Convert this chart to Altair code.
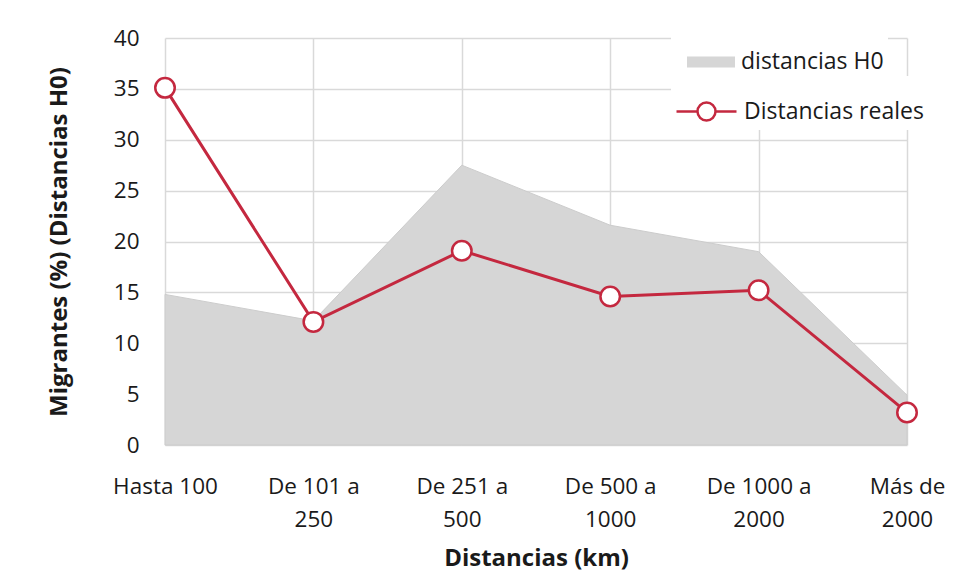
import altair as alt
import pandas as pd

categorias = ["Hasta 100", "De 101 a\n250", "De 251 a\n500", "De 500 a\n1000", "De 1000 a\n2000", "Más de\n2000"]
h0 = [14.8, 12.2, 27.5, 21.6, 19.0, 4.9]
reales = [35.1, 12.1, 19.1, 14.6, 15.2, 3.2]

df_h0 = pd.DataFrame({"cat": categorias, "valor": h0, "serie": "distancias H0"})
df_re = pd.DataFrame({"cat": categorias, "valor": reales, "serie": "Distancias reales"})

FONT = "Open Sans"
RED = "#c4283f"
GRAY = "#d6d6d6"
TXT = "#1a1a1a"

x = alt.X("cat:N", sort=categorias, scale=alt.Scale(type="point", padding=0),
          axis=alt.Axis(title="Distancias (km)", labelExpr="split(datum.label, '\\n')",
                        labelAngle=0, labelFontSize=22.5, labelLineHeight=33, labelPadding=30,
                        titleFontSize=24, titleFontWeight="bold", titlePadding=16,
                        ticks=False, domain=False, grid=True, gridColor="#d9d9d9", gridWidth=1.5,
                        labelColor=TXT, titleColor=TXT))
y = alt.Y("valor:Q", scale=alt.Scale(domain=[0, 40]),
          axis=alt.Axis(title="Migrantes (%) (Distancias H0)", values=list(range(0, 45, 5)),
                        labelFontSize=22.5, labelPadding=26, ticks=False, domain=False,
                        titleFontSize=24, titleFontWeight="bold", titlePadding=42,
                        grid=True, gridColor="#d9d9d9", gridWidth=1.5,
                        labelColor=TXT, titleColor=TXT))

area = alt.Chart(df_h0).mark_area(opacity=1, stroke="#cccccc", strokeWidth=1).encode(
    x=x, y=y,
    fill=alt.Fill("serie:N", scale=alt.Scale(domain=["distancias H0"], range=[GRAY]),
                  legend=alt.Legend(title=None, orient="none", legendX=506, legendY=-10,
                                    symbolType="M-0.6,-0.18H1V0.18H-0.6Z", symbolSize=3600,
                                    symbolStrokeWidth=0, labelFontSize=23, labelOffset=6,
                                    labelLimit=400,
                                    labelFont=FONT, labelColor=TXT,
                                    fillColor="white", padding=4))
)

line = alt.Chart(df_re).mark_line(strokeWidth=3).encode(
    x=x, y=y,
    stroke=alt.Stroke("serie:N", scale=alt.Scale(domain=["Distancias reales"], range=[RED]),
                      legend=alt.Legend(title=None, orient="none", legendX=506, legendY=38,
                                        symbolType="M-1,0H-0.3A0.3,0.3 0 1,1 0.3,0H1M0.3,0A0.3,0.3 0 1,1 -0.3,0",
                                        symbolSize=3600, symbolStrokeWidth=2.5, symbolFillColor="white",
                                        labelFontSize=23, labelOffset=6, labelFont=FONT,
                                        labelLimit=400,
                                        labelColor=TXT, fillColor="white", padding=4))
)

points = alt.Chart(df_re).mark_point(filled=True, fill="white", size=380, strokeWidth=2.5, opacity=1).encode(
    x=x, y=y,
    stroke=alt.Stroke("serie:N", scale=alt.Scale(domain=["Distancias reales"], range=[RED]))
)

chart = alt.layer(area, line, points).properties(
    width=742, height=407,
    autosize=alt.AutoSizeParams(type="none"),
    padding={"left": 157, "top": 30, "right": 60, "bottom": 138},
).configure(font=FONT).configure_view(stroke=None)

chart.save("out.html", embed_options={"renderer": "svg", "actions": False})
